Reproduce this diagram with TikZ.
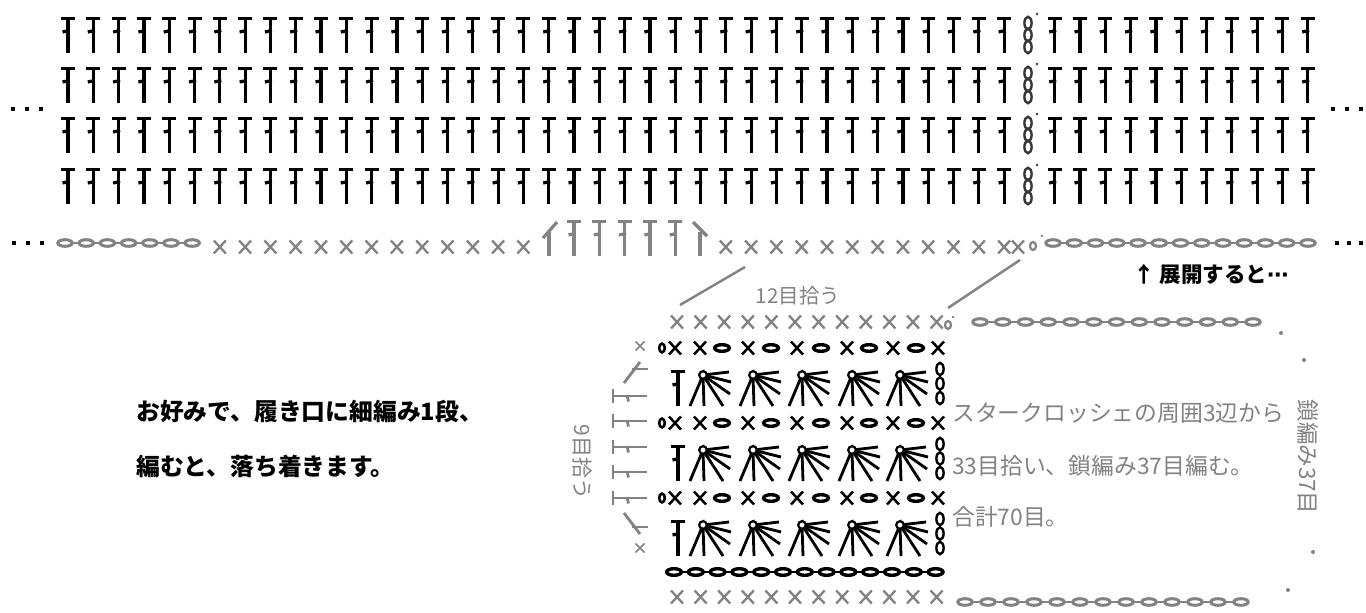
\documentclass[tikz,border=0pt]{standalone}
\usepackage{fontspec}
\newfontfamily\jp{Noto Sans CJK JP}
\newfontfamily\dvs{DejaVu Sans}
\definecolor{gc}{RGB}{130,130,130}
\definecolor{cc}{RGB}{55,55,55}
\newcommand\cT[3]{%
 \draw[#3,line width=3.4] ({#1-7},{#2+1.7}) -- ({#1+7},{#2+1.7});
 \draw[#3,line width=3.2] ({#1},{#2}) -- ({#1},{#2+36});
 \draw[#3,line width=3.2] ({#1-5.5},{#2+15}) -- ({#1+1.5},{#2+13.5});}
\newcommand\cCv[3]{\draw[#3,line width=2.4,fill=white] ({#1},{#2}) ellipse [x radius=3.6pt,y radius=6.2pt];}
\newcommand\cCh[3]{\draw[#3,line width=3,fill=white] ({#1},{#2}) ellipse [x radius=7.2pt,y radius=3.3pt];}
\newcommand\cCb[2]{\draw[black,line width=3.4,fill=white] ({#1},{#2}) ellipse [x radius=7.4pt,y radius=3.3pt];}
\newcommand\cX[4]{\draw[#3,line width=#4] ({#1-6},{#2-6.5}) -- ({#1+6},{#2+6.5}) ({#1-6},{#2+6.5}) -- ({#1+6},{#2-6.5});}
\newcommand\cXs[3]{\draw[#3,line width=1.7] ({#1-4.5},{#2-4.5}) -- ({#1+4.5},{#2+4.5}) ({#1-4.5},{#2+4.5}) -- ({#1+4.5},{#2-4.5});}
\newcommand\cDot[2]{\fill ({#1-2},{#2-2}) rectangle ({#1+2},{#2+2});}
\newcommand\cChain[5]{%
 \draw[#5,line width=2.6] ({#1},{#4}) -- ({#1+(#3-1)*#2},{#4});
 \foreach \i in {1,...,#3}{\cCh{#1+(\i-1)*#2}{#4}{#5}}}
\newcommand\cFan[2]{%
 \draw[line width=2.8] ({#1-13},{#2+36}) -- ({#1},{#2+5}) -- ({#1+1},{#2+36});
 \draw[line width=2.8] ({#1},{#2+5}) -- ({#1+20},{#2+36});
 \draw[line width=2.8] ({#1},{#2+5}) -- ({#1+27},{#2+24});
 \draw[line width=2.8] ({#1},{#2+5}) -- ({#1+28},{#2+12});
 \draw[line width=2.8] ({#1},{#2+5}) -- ({#1+26},{#2+2});
 \draw[line width=2.2,fill=white] ({#1},{#2+5}) circle (3.8pt);}
\newcommand\cHT[2]{%
 \draw[gc,line width=2.8] ({#1},{#2-7}) -- ({#1},{#2+7});
 \draw[gc,line width=2.8] ({#1},{#2}) -- ({#1+34},{#2});
 \draw[gc,line width=2.8] ({#1+14},{#2-1}) -- ({#1+15.5},{#2+5.5});}
\begin{document}
\begin{tikzpicture}[x=1pt,y=-1pt]
\useasboundingbox[fill=white] (0,0) rectangle (1366,613);
% ---- top rows of double crochet
\foreach \t in {17,67,117,168}{
  \foreach \k in {0,...,37}{\pgfmathsetmacro\xx{68+25.3*\k}\cT{\xx}{\t}{black}}
  \foreach \k in {39,...,49}{\pgfmathsetmacro\xx{68+25.3*\k}\cT{\xx}{\t}{black}}
  \foreach \d in {6,18,30}{\cCv{1028}{\t+\d}{cc}}
  \fill[cc] (1037,{\t-3}) circle (1.4pt);
}
\foreach \x in {13,27,41,1333,1347,1361}{\cDot{\x}{109}}
% ---- row 5
\foreach \x in {14,28,42,1337,1349,1361}{\cDot{\x}{243}}
\cChain{65}{21.2}{7}{243}{gc}
\foreach \k in {6,...,18}{\pgfmathsetmacro\xx{68+25.3*\k}\cX{\xx}{247}{gc}{2.3}}
\foreach \k in {26,...,37}{\pgfmathsetmacro\xx{68+25.3*\k}\cX{\xx}{247}{gc}{2.3}}
\cX{1018}{247}{gc}{2.3}
\foreach \k in {20,...,24}{\pgfmathsetmacro\xx{68+25.3*\k}\cT{\xx}{220}{gc}}
\draw[gc,line width=3.2] (549,232) -- (549,256);
\draw[gc,line width=3.2] (543,238) -- (557,222);
\draw[gc,line width=3.2] (700,232) -- (700,256);
\draw[gc,line width=3.2] (693,222) -- (707,236);
\draw[gc,line width=2.2] (1033,246) ellipse [x radius=3pt,y radius=4pt];
\fill[gc] (1042,236) circle (1.3pt);
\cChain{1053}{21.25}{13}{243}{gc}
% ---- pick-up lines and labels
\draw[gc,line width=2.4] (680,305) -- (745,267);
\draw[gc,line width=2.4] (948,308) -- (1020,260);
\node[gc,inner sep=0,font=\jp\fontsize{20.5}{20.5}\selectfont] (t12) at (798,296) {12目拾う};
\node[anchor=west,inner sep=0,font=\jp\bfseries\fontsize{21.5}{21.5}\selectfont] (tkai) at (1133,274) {↑ 展開すると\dvs\bfseries ⋯};
% ---- lower chart
% row A
\foreach \k in {0,...,11}{\pgfmathsetmacro\xx{677+23.6*\k}\cX{\xx}{322}{gc}{2.3}}
\draw[gc,line width=2.2] (948,325) ellipse [x radius=3pt,y radius=4pt];
\fill[gc] (953,317) circle (1.3pt);
\cChain{980}{22.75}{13}{322}{gc}
% rows B D F
\foreach \y in {348,423,498}{
  \draw[black,line width=2.6,fill=white] (662,\y) ellipse [x radius=2.8pt,y radius=4.4pt];
  \foreach \x in {675,700,748,797,847,893,938}{\cX{\x}{\y}{black}{2.5}}
  \foreach \x in {722,771,821,869,916}{\cCb{\x}{\y}}
}
% rows C E G
\foreach \t in {370,445,520}{
  \cT{678}{\t}{black}
  \foreach \x in {703,753,802,852,900}{\cFan{\x}{\t}}
  \foreach \d in {-1,13.5,28}{\cCv{940}{\t+\d}{black}}
}
% row H
\draw[black,line width=2.6] (674,572) -- (936,572);
\foreach \k in {0,...,12}{\pgfmathsetmacro\xx{674+21.8*\k}\cCb{\xx}{572}}
% row I
\foreach \k in {0,...,11}{\pgfmathsetmacro\xx{677+23.6*\k}\cX{\xx}{597}{gc}{2.3}}
\cChain{965}{23}{13}{602}{gc}
% gray dots of the chain loop
\foreach \p in {(1281,333),(1304,360),(1313,552),(1288,590)}{\fill[gc] \p circle (2pt);}
% left column
\cXs{640}{346}{gc}
\cXs{640}{548}{gc}
\draw[gc,line width=2.8] (624,383) -- (640,362);
\draw[gc,line width=2.8] (632,369) -- (648,369);
\draw[gc,line width=2.8] (624,513) -- (640,534);
\draw[gc,line width=2.8] (632,527) -- (648,527);
\foreach \y in {396,421,447,472,498}{\cHT{613}{\y}}
% texts
\node[gc,inner sep=0,rotate=-90,font=\jp\fontsize{21}{21}\selectfont] (lv) at (582,462) {9目拾う};
\node[gc,inner sep=0,rotate=-90,font=\jp\fontsize{22.5}{22.5}\selectfont] (rv) at (1308,457) {鎖編み37目};
\node[anchor=west,inner sep=0,font=\jp\bfseries\fontsize{23.8}{23.8}\selectfont] (l1) at (136,411) {お好みで、履き口に細編み1段、};
\node[anchor=west,inner sep=0,font=\jp\bfseries\fontsize{23.8}{23.8}\selectfont] (l2) at (136,466) {編むと、落ち着きます。};
\node[gc,anchor=west,inner sep=0,font=\jp\fontsize{22.8}{22.8}\selectfont] (r1) at (952,413) {スタークロッシェの周囲3辺から};
\node[gc,anchor=west,inner sep=0,font=\jp\fontsize{22.8}{22.8}\selectfont] (r2) at (952,466) {33目拾い、鎖編み37目編む。};
\node[gc,anchor=west,inner sep=0,font=\jp\fontsize{22.8}{22.8}\selectfont] (r3) at (952,517) {合計70目。};
\end{tikzpicture}
\end{document}
